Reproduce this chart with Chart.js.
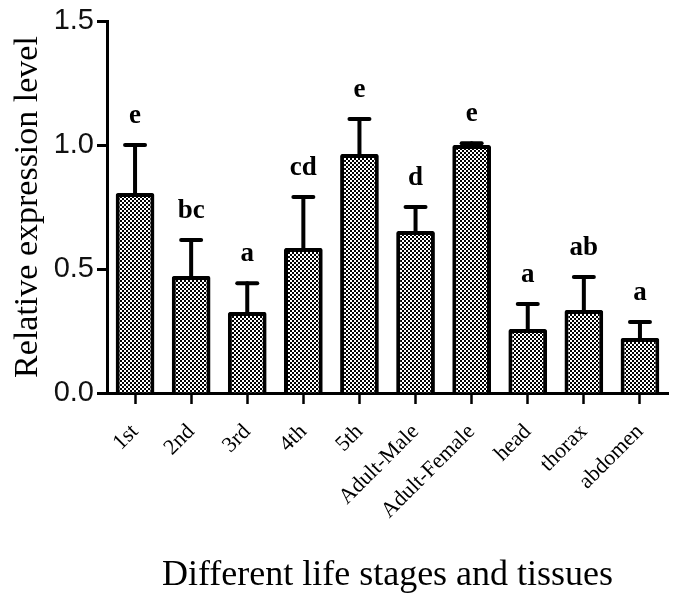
<!DOCTYPE html>
<html>
<head>
<meta charset="utf-8">
<script src="https://cdn.jsdelivr.net/npm/chart.js@4/dist/chart.umd.min.js"></script>
<style>
  html, body { margin: 0; padding: 0; background: #fff; }
  #box { width: 675px; height: 601px; }
</style>
</head>
<body>
<div id="box"><canvas id="wykres" width="675" height="601"></canvas></div>
<script>
// dane
var stages = ['1st', '2nd', '3rd', '4th', '5th', 'Adult-Male', 'Adult-Female', 'head', 'thorax', 'abdomen'];
var meanLevel = [0.806, 0.472, 0.327, 0.585, 0.964, 0.653, 1.0, 0.258, 0.335, 0.222];
var upperErr = [1.0, 0.617, 0.443, 0.79, 1.105, 0.75, 1.007, 0.359, 0.468, 0.286]; // koniec slupka bledu
var letters = ['e', 'bc', 'a', 'cd', 'e', 'd', 'e', 'a', 'ab', 'a'];
var yTicks = [0, 0.5, 1.0, 1.5];

// wzor szachownicy dla slupkow
function makePattern() {
  var c = document.createElement('canvas');
  c.width = 4;
  c.height = 4;
  var g = c.getContext('2d');
  g.fillStyle = '#fff';
  g.fillRect(0, 0, 4, 4);
  g.fillStyle = '#000';
  g.fillRect(0, 0, 2, 2);
  g.fillRect(2, 2, 2, 2);
  return g.createPattern(c, 'repeat');
}

var errorBars = {
  id: 'errorBars',
  afterDatasetsDraw: function (chart) {
    var ctx = chart.ctx;
    var x = chart.scales.x, y = chart.scales.y;
    ctx.save();
    ctx.strokeStyle = '#000';
    ctx.fillStyle = '#000';
    ctx.lineCap = 'round';
    for (var i = 0; i < stages.length; i++) {
      var px = x.getPixelForValue(i);
      var top = y.getPixelForValue(upperErr[i]);
      var base = y.getPixelForValue(meanLevel[i]);
      ctx.lineWidth = 4;
      ctx.beginPath();
      ctx.moveTo(px, base);
      ctx.lineTo(px, top);
      ctx.stroke();
      ctx.beginPath();
      ctx.moveTo(px - 10, top);
      ctx.lineTo(px + 10, top);
      ctx.stroke();
      // litery istotnosci
      ctx.font = 'bold 27px "Liberation Serif"';
      ctx.textAlign = 'center';
      ctx.textBaseline = 'alphabetic';
      ctx.fillText(letters[i], px, top - 22);
    }
    ctx.restore();
  }
};

Chart.defaults.color = '#000';

var ctx = document.getElementById('wykres');
new Chart(ctx, {
  type: 'bar',
  data: {
    labels: stages,
    datasets: [{
      data: meanLevel,
      backgroundColor: makePattern(),
      borderColor: '#000',
      borderWidth: 4,
      borderRadius: 2,
      categoryPercentage: 1,
      barPercentage: 0.69
    }]
  },
  options: {
    responsive: false,
    animation: false,
    layout: { padding: { left: 0, right: 7, top: 21, bottom: 0 } },
    plugins: {
      legend: { display: false },
      tooltip: { enabled: false }
    },
    scales: {
      x: {
        offset: true,
        grid: {
          offset: false,
          drawOnChartArea: false,
          drawTicks: true,
          tickLength: 11,
          tickWidth: 2.5,
          color: '#000'
        },
        border: { display: true, color: '#000', width: 3 },
        ticks: {
          autoSkip: false,
          minRotation: 45,
          maxRotation: 45,
          padding: 15,
          font: { family: 'Liberation Serif', size: 22 },
          color: '#000'
        },
        title: {
          display: true,
          text: 'Different life stages and tissues',
          font: { family: 'Liberation Serif', size: 36 },
          color: '#000',
          padding: { top: 0, bottom: 4 }
        },
        afterFit: function (s) { s.height = 601 - 393; }
      },
      y: {
        min: 0,
        max: 1.5,
        afterBuildTicks: function (s) {
          s.ticks = yTicks.map(function (v) { return { value: v }; });
        },
        grid: {
          drawOnChartArea: false,
          drawTicks: true,
          tickLength: 10,
          tickWidth: 3,
          color: '#000'
        },
        border: { display: true, color: '#000', width: 3 },
        ticks: {
          padding: 3,
          font: { family: 'Liberation Sans', size: 29 },
          color: '#111',
          callback: function (v) { return Number(v).toFixed(1); }
        },
        title: {
          display: true,
          text: 'Relative expression level',
          font: { family: 'Liberation Serif', size: 34 },
          color: '#000',
          padding: { top: 8, bottom: 0 }
        },
        afterFit: function (s) { s.width = 107; }
      }
    }
  },
  plugins: [errorBars]
});
</script>
</body>
</html>
